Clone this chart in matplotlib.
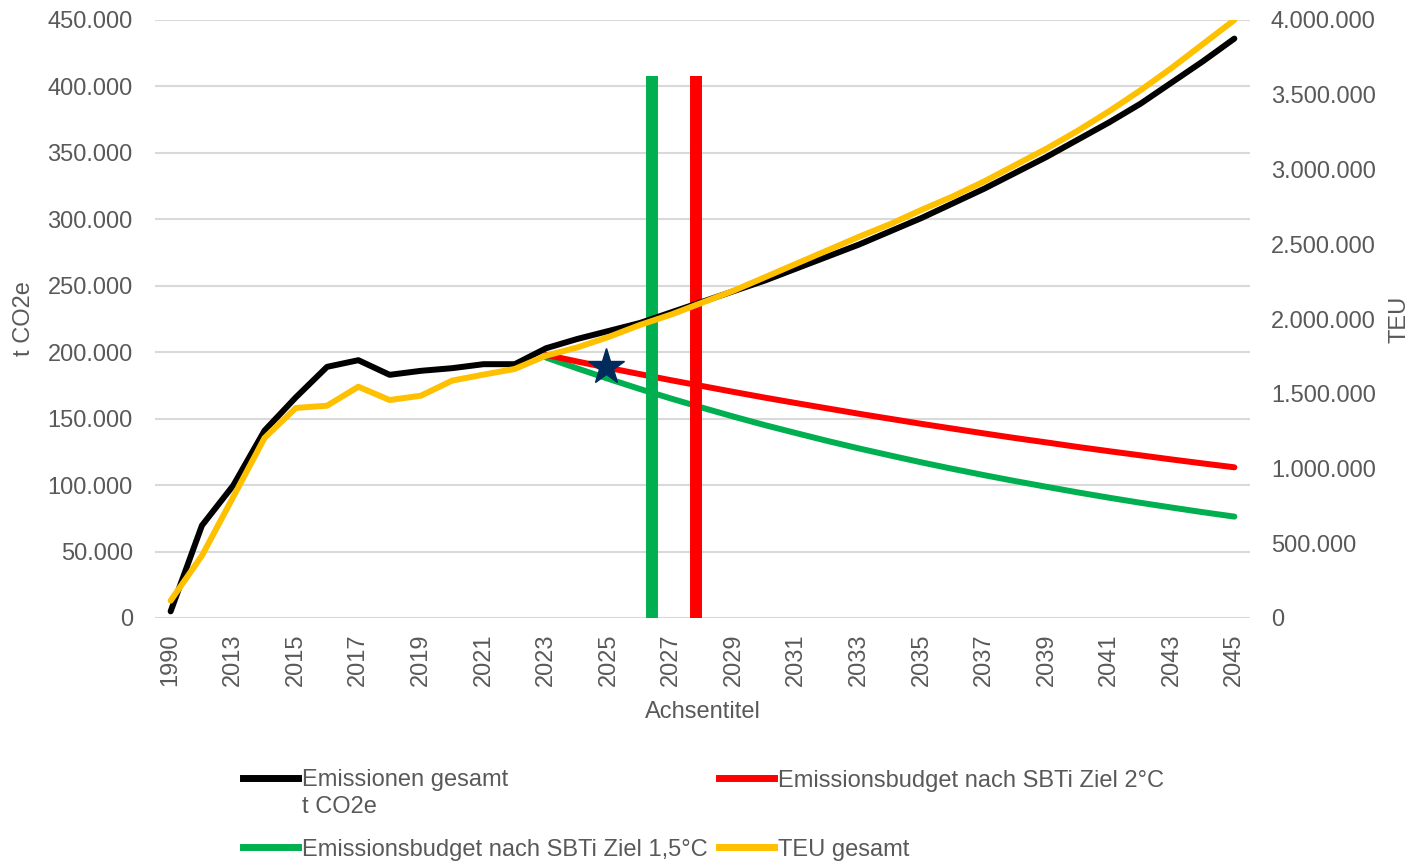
import numpy as np
import matplotlib
matplotlib.use("Agg")
import matplotlib.pyplot as plt
from matplotlib.lines import Line2D
from matplotlib.ticker import FuncFormatter, MultipleLocator

plt.rcParams['font.family'] = ['Liberation Sans', 'DejaVu Sans']

# categories (x axis)
years = ["1990", "2012", "2013", "2014", "2015", "2016", "2017", "2018", "2019",
         "2020", "2021", "2022", "2023", "2024", "2025", "2026", "2027", "2028",
         "2029", "2030", "2031", "2032", "2033", "2034", "2035", "2036", "2037",
         "2038", "2039", "2040", "2041", "2042", "2043", "2044", "2045"]

# Emissionen gesamt, t CO2e (left axis)
emissionen = [5000, 69600, 99700, 141000, 166000, 189000, 194000, 183000, 186000,
              188000, 191000, 191000, 203000, 210000, 216000, 222000, 230000, 238000,
              246000, 254000, 263000, 272000, 281000, 291000, 301000, 312000, 323000,
              335000, 347000, 360000, 373000, 387000, 403000, 419000, 436000]

# TEU gesamt (right axis)
teu = [116000, 417000, 810000, 1204000, 1405000, 1420000, 1547000, 1458000, 1487000,
       1588000, 1628000, 1666000, 1755000, 1810000, 1880000, 1960000, 2030000, 2110000,
       2190000, 2280000, 2370000, 2460000, 2550000, 2635000, 2730000, 2820000, 2920000,
       3030000, 3140000, 3260000, 3390000, 3530000, 3680000, 3840000, 4000000]

# budgets from 2023 on
budget_start = "2023"
budget_2c = [198000, 193000, 188200, 183500, 178900, 174500, 170100, 165800, 161700,
             157700, 153700, 149900, 146100, 142500, 138900, 135400, 132100, 128700,
             125500, 122400, 119300, 116300, 113400]
budget_15c = [196000, 187800, 179900, 172300, 165100, 158200, 151500, 145100, 139100,
              133200, 127600, 122300, 117100, 112200, 107500, 103000, 98700, 94500,
              90500, 86700, 83100, 79600, 76300]

# target markers (vertical bars) and current point
ziel_15_year = 2026.4
ziel_2_year = 2027.8
ziel_top = 408000
stern_year = 2024.9
stern_value = 189000

grey = '#595959'
grid = '#D9D9D9'
W, H = 1412, 861

fig = plt.figure(figsize=(W / 100, H / 100), dpi=100)
ax = fig.add_axes([155 / W, 243 / H, 1095 / W, 598 / H])
ax2 = ax.twinx()

x = np.arange(len(years))
b0 = years.index(budget_start)
xb = np.arange(b0, b0 + len(budget_2c))

ax.plot(xb, budget_15c, color='#00B050', lw=4.3, solid_capstyle='round', zorder=2)
ax.plot(xb, budget_2c, color='#FF0000', lw=4.3, solid_capstyle='round', zorder=2)

def year_pos(y):
    base = years.index(str(int(y)))
    return base + (y - int(y))

ax.vlines(year_pos(ziel_15_year), 0, ziel_top, color='#00B050', lw=8.6, zorder=3)
ax.vlines(year_pos(ziel_2_year), 0, ziel_top, color='#FF0000', lw=8.6, zorder=3)

ax.plot(x, emissionen, color='black', lw=4.3, solid_capstyle='round', zorder=4)
ax.plot(year_pos(stern_year), stern_value, marker='*', color='#002B5C',
        markersize=27, zorder=6, linestyle='none')

ax2.plot(x, teu, color='#FFC000', lw=4.3, solid_capstyle='round', zorder=5)
ax2.set_zorder(ax.get_zorder() + 1)
ax2.patch.set_visible(False)

fmt = FuncFormatter(lambda v, p: f"{v:,.0f}".replace(",", "."))

ax.set_xlim(-0.5, len(years) - 0.5)
ax.set_ylim(0, 450000)
ax.yaxis.set_major_locator(MultipleLocator(50000))
ax.yaxis.set_major_formatter(fmt)
ax2.set_ylim(0, 4000000)
ax2.yaxis.set_major_locator(MultipleLocator(500000))
ax2.yaxis.set_major_formatter(fmt)

ax.set_xticks(x[::2])
ax.set_xticklabels(years[::2], rotation=90)

ax.grid(axis='y', color=grid, lw=1.5, zorder=0)
ax.set_axisbelow(True)
for a in (ax, ax2):
    for s in a.spines.values():
        s.set_visible(False)
    a.tick_params(length=0, labelsize=17, labelcolor=grey)
ax.tick_params(axis='y', pad=16)
ax.tick_params(axis='x', pad=11)
ax2.tick_params(axis='y', pad=15)

ax.set_ylabel("t CO2e", fontsize=17, color=grey, labelpad=9)
ax2.set_ylabel("TEU", fontsize=17, color=grey, labelpad=9)
ax.set_xlabel("Achsentitel", fontsize=17, color=grey, labelpad=11)

# legend: one entry per slot so rows and columns line up like the original
entries = [("black", "Emissionen gesamt\nt CO2e", 243, 769, 'upper left'),
           ("#FF0000", "Emissionsbudget nach SBTi Ziel 2°C", 719, 780, 'center left'),
           ("#00B050", "Emissionsbudget nach SBTi Ziel 1,5°C", 243, 849, 'center left'),
           ("#FFC000", "TEU gesamt", 719, 849, 'center left')]
for col, lab, px, py, loc in entries:
    leg = fig.legend([Line2D([], [], color=col, lw=5)], [lab], loc=loc,
                     bbox_to_anchor=(px / W, 1 - py / H), frameon=False,
                     fontsize=17, handlelength=2.35, handletextpad=0.17,
                     borderpad=0, borderaxespad=0, handleheight=1.0)
    for t in leg.get_texts():
        t.set_color(grey)
        t.set_linespacing(1.3)
    if "\n" in lab:
        # keep the line next to the first text line
        try:
            for column in leg._legend_handle_box.get_children():
                for row in column.get_children():
                    row.align = 'top'
        except AttributeError:
            pass

fig.savefig("out.png", dpi=100)
